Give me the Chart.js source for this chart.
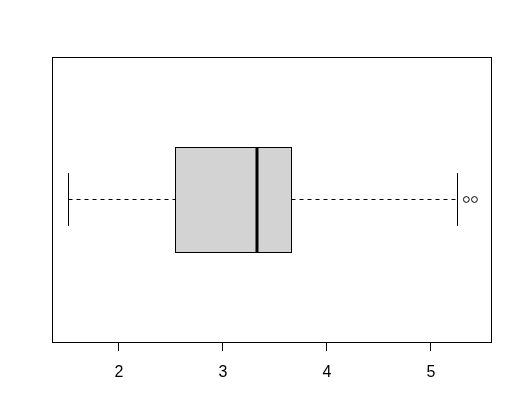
<!DOCTYPE html>
<html>
<head>
<meta charset="utf-8">
<script src="https://cdn.jsdelivr.net/npm/chart.js@4/dist/chart.umd.min.js"></script>
<style>
  body { margin: 0; background: #fff; }
  #wrap { width: 516px; height: 403px; }
</style>
</head>
<body>
<div id="wrap"><canvas id="myChart"></canvas></div>
<script>
'use strict';
// boxplot stats
var whiskerLow = [1.51];
var boxLow = [2.538];
var median = [3.327];
var boxHigh = [3.658];
var whiskerHigh = [5.25];
var outliers = [5.34, 5.418];
var tickValues = [2, 3, 4, 5];

// draws the box, whiskers and frame with the chart's scales
var boxPlugin = {
  id: 'boxPlugin',
  beforeDatasetsDraw: function (chart) {
    let ctx = chart.ctx;
    let xs = chart.scales.x;
    let ys = chart.scales.y;
    let area = chart.chartArea;
    ctx.save();
    for (let i = 0; i < median.length; i++) {
      let yc = Math.floor(ys.getPixelForValue(1 + i)) + 0.5;
      let yTop = Math.round(ys.getPixelForValue(1 + i + 0.2)) + 0.5;
      let yBot = Math.floor(ys.getPixelForValue(1 + i - 0.2)) + 0.5;
      let sTop = ys.getPixelForValue(1 + i + 0.1);
      let sBot = ys.getPixelForValue(1 + i - 0.1);
      let x1 = Math.round(xs.getPixelForValue(boxLow[i])) + 0.5;
      let x3 = Math.round(xs.getPixelForValue(boxHigh[i])) + 0.5;
      let xm = xs.getPixelForValue(median[i]);
      let wl = Math.round(xs.getPixelForValue(whiskerLow[i])) + 0.5;
      let wh = Math.round(xs.getPixelForValue(whiskerHigh[i])) + 0.5;

      ctx.strokeStyle = '#000';
      ctx.lineWidth = 1;
      //whiskers
      ctx.setLineDash([4, 4]);
      ctx.beginPath();
      ctx.moveTo(wl, yc);
      ctx.lineTo(x1, yc);
      ctx.moveTo(x3, yc);
      ctx.lineTo(wh, yc);
      ctx.stroke();
      ctx.setLineDash([]);
      //staples
      ctx.beginPath();
      ctx.moveTo(wl, sTop);
      ctx.lineTo(wl, sBot);
      ctx.moveTo(wh, sTop);
      ctx.lineTo(wh, sBot);
      ctx.stroke();
      //box
      ctx.fillStyle = '#d3d3d3';
      ctx.fillRect(x1, yTop, x3 - x1, yBot - yTop);
      ctx.strokeRect(x1, yTop, x3 - x1, yBot - yTop);
      //median
      ctx.lineWidth = 3;
      ctx.beginPath();
      ctx.moveTo(xm, yTop);
      ctx.lineTo(xm, yBot);
      ctx.stroke();
    }
    //frame
    ctx.lineWidth = 1;
    ctx.strokeRect(Math.round(area.left) + 0.5, Math.round(area.top) + 0.5,
      Math.round(area.right - area.left), Math.round(area.bottom - area.top));
    ctx.restore();
  }
};

let ctx = document.getElementById('myChart').getContext('2d');
// eslint-disable-next-line no-undef
new Chart(ctx, {
  type: 'scatter',
  data: {
    datasets: [{
      label: 'outliers',
      data: outliers.map(v => ({ x: v, y: 1 })),
      pointRadius: 2.9,
      pointHoverRadius: 2.9,
      borderWidth: 1,
      borderColor: '#000',
      backgroundColor: '#fff'
    }]
  },
  options: {
    responsive: true,
    maintainAspectRatio: false,
    animation: false,
    layout: { padding: { left: 52, right: 25, top: 57, bottom: 0 } },
    plugins: { legend: { display: false }, tooltip: { enabled: false } },
    scales: {
      x: {
        min: 1.356,
        max: 5.577,
        afterBuildTicks: function (scale) {
          scale.ticks = tickValues.map(v => ({ value: v }));
        },
        afterFit: function (scale) {
          scale.height = 61;
        },
        border: { display: false },
        grid: {
          drawOnChartArea: false,
          drawTicks: true,
          tickLength: 9,
          color: '#000'
        },
        ticks: {
          color: '#000',
          padding: 12,
          maxRotation: 0,
          font: { family: 'Liberation Sans', size: 16 }
        }
      },
      y: {
        display: false,
        min: 0.46,
        max: 1.54
      }
    }
  },
  plugins: [boxPlugin]
});
</script>
</body>
</html>
